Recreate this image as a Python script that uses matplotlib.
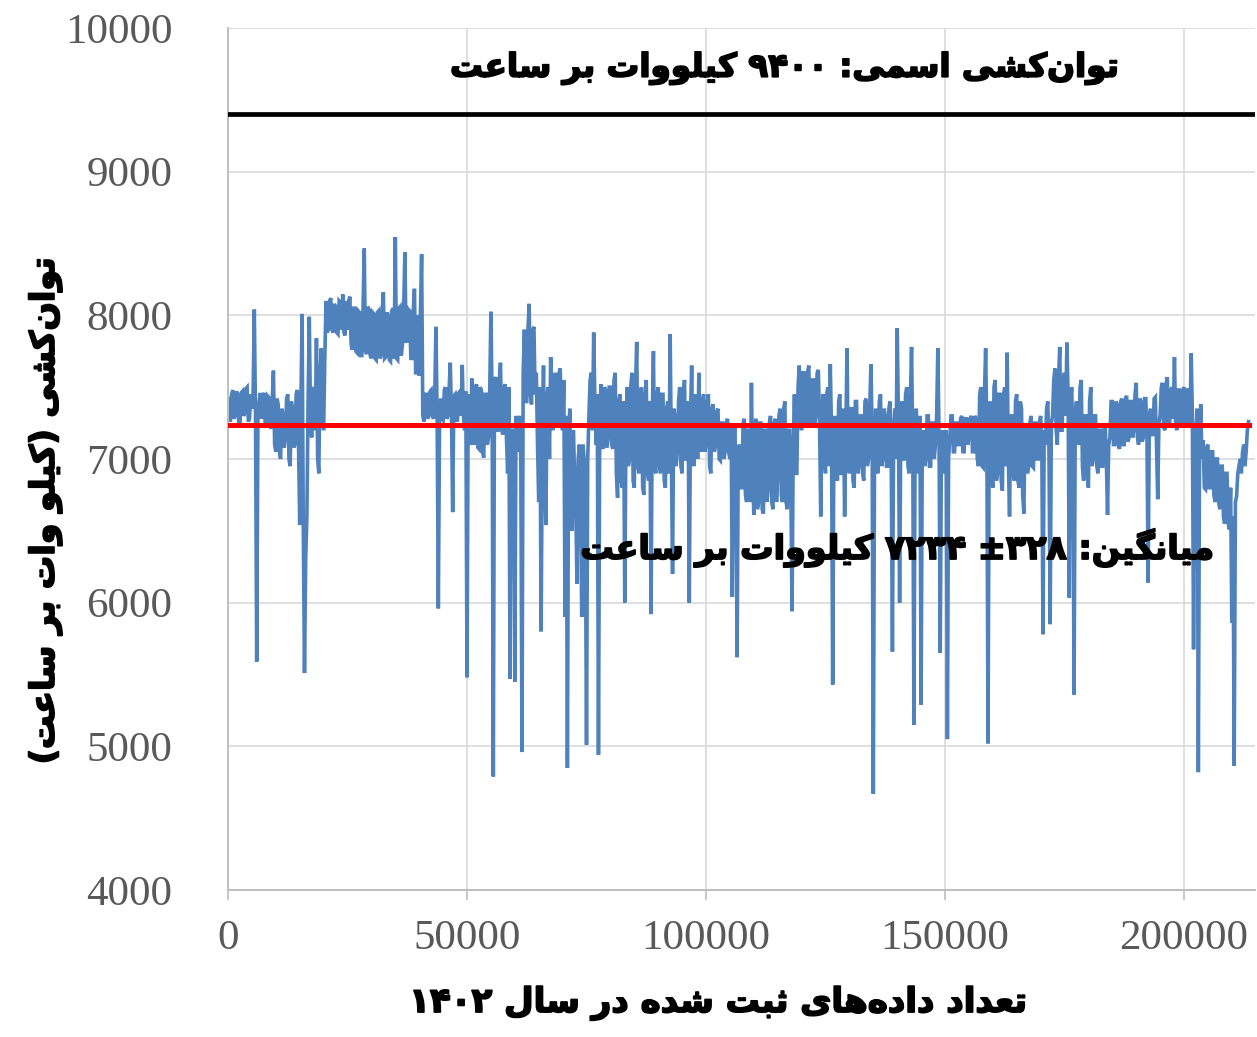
import re

import matplotlib
matplotlib.use("Agg")
import matplotlib.pyplot as plt
import matplotlib.patheffects as pe
import numpy as np

# Power draw over the recorded samples of 1402, read every 250 records:
# power_a holds records 0, 500, 1000, ... and power_b records 250, 750, ...
power_a = [
    7420, 7260, 7480, 7300, 7450, 7230, 7470, 7320, 7500, 7280,
    7350, 8040, 5590, 7400, 7280, 7460, 7250, 7430, 7210, 7615,
    7050, 7380, 7000, 7300, 7150, 7450, 6950, 7350, 7100, 7480,
    6540, 8010, 5510, 6600, 7990, 7150, 7500, 7840, 6900, 7770,
    7200, 8100, 7900, 8120, 7880, 8060, 7870, 8090, 8145, 7860,
    7900, 8130, 7760, 8050, 7740, 8020, 7720, 8465, 7730, 8040,
    7700, 8010, 7690, 8030, 7720, 8160, 7710, 8000, 7680, 8050,
    8545, 7690, 8060, 7800, 8440, 7820, 8030, 7700, 8185, 7600,
    7580, 8425, 7260, 7450, 7300, 7480, 7280, 7920, 5960, 7420,
    7270, 7500, 7300, 7670, 6630, 7450, 7260, 7470, 7655, 7200,
    5480, 7400, 7560, 7100, 7520, 7070, 7480, 7010, 7450, 7150,
    8025, 4790, 7570, 7200, 7670, 7170, 7520, 6900, 5470, 7200,
    5450, 7050, 7300, 4960, 7900, 7400, 8080, 7380, 7920, 7600,
    6700, 5800, 7650, 6540, 7500, 7710, 7200, 7600, 7250, 7630,
    7200, 5900, 4850, 7350, 6500, 6900, 6130, 7100, 5900, 7000,
    5010, 7300, 7600, 7880, 7100, 4940, 7520, 7070, 7480, 7150,
    7500, 7070, 7600, 6730, 7450, 6800, 6000, 7500, 7000, 7600,
    6800, 7815, 6900, 7500, 6750, 7550, 6850, 5920, 7750, 6900,
    7500, 6900, 7450, 6800, 7400, 7870, 6200, 7300, 7050, 7500,
    6900, 7550, 7000, 6000, 7650, 6950, 7400, 7600, 7050, 7450,
    7100, 7450, 6900, 7380, 7100, 7350, 6990, 7250, 7050, 7280,
    7000, 6040, 7250, 5620, 7100, 6800, 7280, 6700, 7200, 7530,
    6610, 7280, 6700, 7250, 6620, 7200, 6800, 7300, 6650, 7280,
    6900, 7350, 6700, 7400, 6650, 7200, 5940, 7450, 6900, 7650,
    7200, 7600, 7250, 7650, 7230, 7550, 7300, 7620, 6600, 7450,
    6900, 7500, 7660, 5430, 7300, 6850, 7450, 6900, 6600, 7770,
    6900, 7350, 6800, 7400, 6950, 7300, 6850, 7420, 7000, 7660,
    4670, 7350, 6900, 7450, 7000, 7300, 6950, 7400, 5660, 7350,
    7910, 6000, 7400, 7000, 7500, 6900, 7780, 5150, 7350, 6900,
    5290, 7200, 7000, 7300, 6950, 7250, 7100, 7770, 5650, 7200,
    6900, 5050, 7150, 7300, 7050, 7250, 7100, 7300, 7050, 7280,
    7150, 7300, 7050, 7280, 6950, 7500, 6940, 7770, 5020, 7400,
    6800, 7550, 6900, 7450, 6780, 7500, 7740, 6600, 7300, 6850,
    7450, 6800, 7350, 6620, 7200, 6950, 7300, 6940, 7250, 7000,
    7300, 5780, 7100, 7400, 5850, 7300, 7630, 7100, 7780, 7200,
    7600, 7810, 6035, 7500, 5360, 7400, 7100, 7550, 6850, 7300,
    6800, 7500, 7000, 7300, 6900, 7200, 6950, 7250, 6610, 7150,
    7400, 7100, 7380, 7070, 7420, 7100, 7440, 7150, 7400, 7200,
    7530, 7100, 7400, 7150, 7420, 6140, 7350, 7160, 7430, 6720,
    7300, 7530, 7200, 7570, 7250, 7500, 7710, 7200, 7480, 7250,
    7500, 7250, 7480, 7735, 5675, 7200, 4820, 7380, 7130, 6790,
    7100, 6800, 7050, 6700, 7000, 6650, 6950, 6550, 6900, 6510,
    5860, 4865, 6740, 6950, 6900, 7100, 7050, 7260,
]
power_b = [
    7300, 7450, 7280, 7470, 7250, 7460, 7300, 7490, 7260, 7450,
    7460, 7300, 7280, 7460, 7440, 7260, 7440, 7240, 7420, 7100,
    7420, 7050, 7350, 7080, 7420, 7000, 7400, 7080, 7450, 7100,
    7400, 6500, 6300, 7400, 7300, 7480, 7200, 7000, 7600, 7300,
    7700, 7880, 8100, 7900, 8080, 7880, 8100, 7900, 7880, 8100,
    8100, 7800, 8050, 7750, 8030, 7720, 8050, 7750, 8060, 7720,
    8020, 7700, 8020, 7700, 8030, 7700, 8020, 7690, 8030, 7700,
    7700, 8050, 7720, 8050, 7820, 8040, 7700, 8030, 7600, 8000,
    8000, 7300, 7450, 7280, 7470, 7300, 7450, 7300, 7250, 7280,
    7480, 7280, 7480, 7300, 7440, 7280, 7460, 7300, 7300, 7470,
    7450, 7100, 7150, 7500, 7080, 7500, 7050, 7450, 7100, 7480,
    7400, 7550, 7200, 7550, 7200, 7500, 7150, 7500, 7200, 7000,
    7300, 7250, 7000, 7600, 7400, 7900, 7450, 7900, 7450, 7100,
    7500, 7100, 6900, 7450, 7000, 7250, 7550, 7250, 7600, 7250,
    7550, 7300, 7100, 6800, 7200, 6700, 7000, 6700, 7100, 6600,
    7000, 7550, 7200, 7400, 7450, 7100, 7100, 7500, 7080, 7500,
    7100, 7550, 6900, 7400, 6850, 7400, 7200, 6950, 7500, 6850,
    7500, 6950, 7450, 6800, 7450, 6900, 7400, 7300, 6950, 7450,
    6950, 7450, 6850, 7350, 6900, 7000, 7350, 6950, 7400, 6950,
    7450, 7000, 7400, 7300, 7000, 7450, 7000, 7150, 7400, 7050,
    7400, 6950, 7350, 7050, 7330, 7000, 7250, 7000, 7250, 7050,
    7250, 7000, 6950, 7050, 6800, 7250, 6750, 7200, 6700, 6900,
    7250, 6650, 7250, 6650, 7200, 6700, 7250, 6700, 7250, 6700,
    7300, 6750, 7350, 6700, 7200, 6800, 7100, 6900, 7500, 7250,
    7600, 7250, 7600, 7250, 7550, 7250, 7600, 7250, 7350, 7000,
    7450, 6950, 7200, 7100, 6900, 7400, 6900, 7350, 7200, 7000,
    7350, 6850, 7400, 6900, 7300, 6900, 7400, 6950, 7350, 7200,
    7000, 6950, 7400, 6950, 7350, 6950, 7350, 7000, 7200, 7000,
    7300, 7200, 7000, 7450, 6950, 7400, 7100, 7200, 6950, 7300,
    7150, 6950, 7300, 6950, 7250, 7000, 7300, 7150, 7100, 6950,
    7200, 7000, 7300, 7050, 7250, 7100, 7280, 7050, 7280, 7100,
    7280, 7050, 7300, 7000, 7450, 6950, 7450, 7200, 7300, 6900,
    7500, 6850, 7450, 6850, 7450, 6950, 7000, 7300, 6900, 7400,
    6850, 7400, 6750, 7250, 6900, 7250, 6950, 7250, 7000, 7250,
    7100, 7200, 7350, 7050, 7250, 7550, 7200, 7550, 7200, 7550,
    7300, 7450, 7400, 7100, 7300, 7150, 7500, 6950, 7300, 6900,
    7400, 6950, 7300, 6950, 7200, 6950, 7200, 7000, 7100, 7400,
    7100, 7400, 7100, 7400, 7100, 7420, 7120, 7400, 7150, 7450,
    7150, 7420, 7120, 7420, 7150, 7300, 7180, 7420, 7100, 7250,
    7500, 7220, 7520, 7260, 7480, 7280, 7250, 7480, 7250, 7480,
    7250, 7480, 7250, 7300, 7200, 7350, 7100, 7000, 6800, 7080,
    6800, 7050, 6750, 7000, 6700, 6950, 6600, 6900, 6550, 6800,
    6600, 6700, 6900, 7000, 7050, 6950, 7200,
]
power = np.empty(len(power_a) + len(power_b))
power[0::2] = power_a
power[1::2] = power_b
records = np.arange(len(power)) * 250

rated_power = 9400
mean_power = 7234
std_power = 328

x_ticks = [0, 50000, 100000, 150000, 200000]
y_ticks = [4000, 5000, 6000, 7000, 8000, 9000, 10000]

rated_label = "توان‌کشی اسمی: ۹۴۰۰ کیلووات بر ساعت"
mean_label = "میانگین: ۳۲۸± ۷۲۳۴ کیلووات بر ساعت"
x_label = "تعداد داده‌های ثبت شده در سال ۱۴۰۲"
y_label = "توان‌کشی (کیلو وات بر ساعت)"

# contextual letter forms: isolated, final, initial, medial
FORMS = {
    "\u0627": (0xFE8D, 0xFE8E),
    "\u0622": (0xFE81, 0xFE82),
    "\u062F": (0xFEA9, 0xFEAA),
    "\u0630": (0xFEAB, 0xFEAC),
    "\u0631": (0xFEAD, 0xFEAE),
    "\u0632": (0xFEAF, 0xFEB0),
    "\u0698": (0xFB8A, 0xFB8B),
    "\u0648": (0xFEED, 0xFEEE),
    "\u0628": (0xFE8F, 0xFE90, 0xFE91, 0xFE92),
    "\u067E": (0xFB56, 0xFB57, 0xFB58, 0xFB59),
    "\u062A": (0xFE95, 0xFE96, 0xFE97, 0xFE98),
    "\u062B": (0xFE99, 0xFE9A, 0xFE9B, 0xFE9C),
    "\u062C": (0xFE9D, 0xFE9E, 0xFE9F, 0xFEA0),
    "\u062D": (0xFEA1, 0xFEA2, 0xFEA3, 0xFEA4),
    "\u062E": (0xFEA5, 0xFEA6, 0xFEA7, 0xFEA8),
    "\u0633": (0xFEB1, 0xFEB2, 0xFEB3, 0xFEB4),
    "\u0634": (0xFEB5, 0xFEB6, 0xFEB7, 0xFEB8),
    "\u0639": (0xFEC9, 0xFECA, 0xFECB, 0xFECC),
    "\u0641": (0xFED1, 0xFED2, 0xFED3, 0xFED4),
    "\u0642": (0xFED5, 0xFED6, 0xFED7, 0xFED8),
    "\u06A9": (0xFB8E, 0xFB8F, 0xFB90, 0xFB91),
    "\u06AF": (0xFB92, 0xFB93, 0xFB94, 0xFB95),
    "\u0644": (0xFEDD, 0xFEDE, 0xFEDF, 0xFEE0),
    "\u0645": (0xFEE1, 0xFEE2, 0xFEE3, 0xFEE4),
    "\u0646": (0xFEE5, 0xFEE6, 0xFEE7, 0xFEE8),
    "\u0647": (0xFEE9, 0xFEEA, 0xFEEB, 0xFEEC),
    "\u06CC": (0xFBFC, 0xFBFD, 0xFBFE, 0xFBFF),
}
DIGITS = "0-9\u06F0-\u06F9"


def rtl(text):
    """Join Persian letters and lay the string out right to left."""
    text = text.replace("\u0643", "\u06A9").replace("\u064A", "\u06CC")
    out = []
    for i, ch in enumerate(text):
        forms = FORMS.get(ch)
        if forms is None:
            out.append(ch)
            continue
        prev = text[i - 1] if i > 0 else ""
        nxt = text[i + 1] if i + 1 < len(text) else ""
        join_prev = prev in FORMS and len(FORMS[prev]) == 4
        join_next = nxt in FORMS and len(forms) == 4
        idx = [[0, 2], [1, 3]][join_prev][join_next]
        out.append(chr(forms[idx]))
    shaped = "".join(out).replace("\u200c", "")
    runs = re.findall(f"[{DIGITS}]+|[^{DIGITS}]", shaped)
    mirror = {"(": ")", ")": "("}
    return "".join(mirror.get(r, r) for r in reversed(runs))


# heavy black labels, thickened a little with an outline of the same colour
fa_font = dict(family=["DejaVu Sans"], weight="bold", color="black",
               path_effects=[pe.withStroke(linewidth=1.3, foreground="black")])

fig = plt.figure(figsize=(12.57, 10.37), dpi=100)
ax = fig.add_axes([0.1814, 0.1418, 0.8170, 0.8312])

ax.plot(records, power, color="#4f81bd", linewidth=2.6,
        solid_joinstyle="miter", zorder=2)
ax.plot([records[0], records[-1]], [mean_power, mean_power],
        color="#ff0000", linewidth=3.6, zorder=3)
ax.axhline(rated_power, color="black", linewidth=3.4, zorder=3)

ax.set_xlim(0, 214850)
ax.set_ylim(4000, 10000)
ax.set_xticks(x_ticks)
ax.set_yticks(y_ticks)
ax.set_xticklabels([str(v) for v in x_ticks])
ax.set_yticklabels([str(v) for v in y_ticks])
for lbl in ax.get_xticklabels() + ax.get_yticklabels():
    lbl.set_family("Liberation Serif")
    lbl.set_fontsize(31)
    lbl.set_color("#595959")
ax.tick_params(axis="x", direction="out", length=7, width=1.2,
               color="#bfbfbf", pad=14)
ax.tick_params(axis="y", length=0, pad=40)

ax.grid(True, color="#d9d9d9", linewidth=1.2, zorder=0)
ax.set_axisbelow(True)
for side in ("top", "right"):
    ax.spines[side].set_visible(False)
for side in ("left", "bottom"):
    ax.spines[side].set_color("#bfbfbf")
    ax.spines[side].set_linewidth(1.4)

ax.text(116500, 9720, rtl(rated_label), ha="center", va="center",
        fontsize=23.5, **fa_font)
ax.text(140200, 6380, rtl(mean_label), ha="center", va="center",
        fontsize=24, zorder=4, **fa_font)

fig.text(718 / 1257, 1 - 1003 / 1037, rtl(x_label), ha="center",
         va="center", fontsize=24.5, **fa_font)
fig.text(45 / 1257, 1 - 510 / 1037, rtl(y_label), ha="center",
         va="center", rotation=90, fontsize=24, **fa_font)

fig.savefig("out.png", dpi=100, facecolor="white")
